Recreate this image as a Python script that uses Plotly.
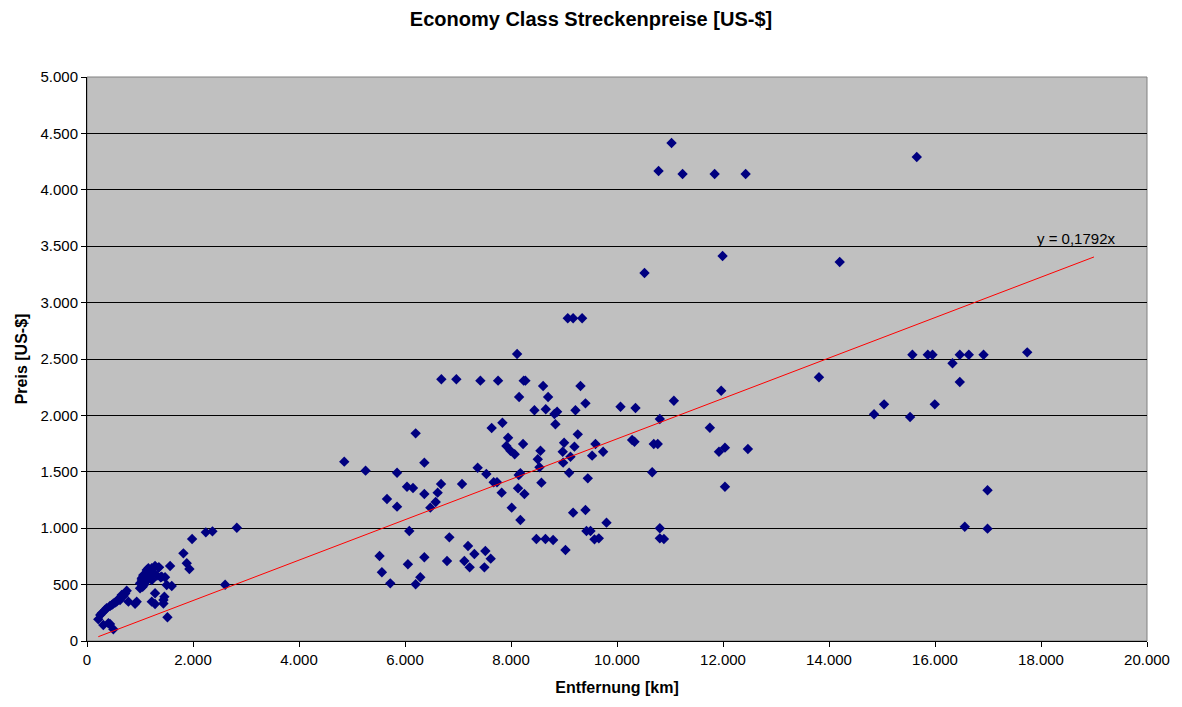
import plotly.graph_objects as go

# Distances [km] and prices [US-$]
dist_short = [213, 250, 277, 308, 340, 370, 403, 434, 434, 470, 497, 497, 530, 560, 590, 623,
              655, 690, 720, 749, 781, 907, 938, 1001, 1001, 1033, 1033, 1050, 1064, 1064, 1100,
              1127, 1150, 1158, 1222, 1222, 1222, 1284, 1284, 1284, 1348, 1360, 1390, 1410, 1442,
              1442, 1460, 1473, 1504, 1518, 1568, 1599, 1819, 1882, 1932, 1983, 2242, 2367, 2606, 2827,
              1080, 1180, 1250, 1320]
price_short = [192, 230, 245, 142, 275, 290, 157, 310, 151, 320, 333, 104, 340, 350, 370, 363,
               408, 400, 420, 446, 349, 330, 349, 467, 511, 541, 556, 480, 576, 585, 520,
               629, 600, 645, 645, 541, 349, 665, 423, 328, 653, 653, 565, 570, 363,
               333, 393, 565, 496, 210, 665, 488, 777, 689, 638, 904, 963, 972, 499, 1004,
               500, 560, 610, 580]

dist_mid = [4854, 5256, 5850, 6201, 6365, 6038, 6151, 5660, 5850, 6365, 6680, 6616, 6579, 6478,
            7076, 7371, 7535, 7673, 7736, 7824, 8013, 8177, 7635, 7838, 7945, 7913, 7989, 8070,
            8228, 8145, 8177, 8133, 8253, 8556, 8505, 8537, 8574, 6081, 6837, 5520, 5564, 5722,
            6055, 6365, 6289, 6201, 6793, 7189, 7309, 7120, 7220, 7516, 7617, 7498, 8479, 8650,
            9071, 9172, 9342, 8115, 6686, 6969, 7422, 7756, 8240, 8272, 8606, 9311, 8153, 8700,
            9405, 8442, 8656, 8870, 8820, 9216, 10066, 10349, 8838, 9260, 9002, 9197, 9594, 9738,
            9531, 8976, 9122, 8984, 10285, 10330, 10694, 10769, 10808, 10664, 9097, 9449, 9172,
            9405, 9802, 9424, 9500, 9575, 9657, 9028, 8795, 10808, 10808, 11966, 11073, 11752,
            11924, 12037, 12470, 12037, 10885]
price_mid = [1590, 1510, 1492, 1841, 1581, 1368, 1356, 1259, 1191, 1303, 1392, 1315, 1232, 1182,
             1392, 1536, 1480, 1407, 1407, 1315, 1182, 1073, 1888, 1935, 1802, 1729, 1687, 1655,
             1746, 1472, 1487, 1354, 1303, 1687, 1611, 1540, 1404, 975, 919, 754, 609, 511,
             680, 742, 565, 503, 709, 842, 771, 709, 653, 798, 730, 653, 904, 904,
             2861, 2861, 2861, 2544, 2320, 2320, 2308, 2308, 2308, 2308, 2261, 2261, 2163, 2163,
             2107, 2045, 2054, 2033, 2012, 2045, 2077, 2066, 1921, 1832, 1758, 1723, 1746, 1678,
             1643, 1678, 1634, 1581, 1782, 1767, 1746, 1746, 1968, 1496, 1492, 1442, 1138,
             1161, 1049, 975, 975, 901, 910, 807, 895, 999, 910, 2219, 2130, 1891,
             1678, 1714, 1702, 1368, 904]

dist_long = [10519, 10784, 11029, 11237, 11842, 12427, 11992, 15656, 14202, 13811, 15573, 15864,
             15953, 16468, 16638, 16916, 17740, 16330, 16468, 15039, 14850, 15996, 15530, 16991,
             16562, 16991]
price_long = [3262, 4167, 4415, 4140, 4140, 4140, 3413, 4291, 3360, 2338, 2538, 2538,
              2538, 2538, 2538, 2538, 2559, 2462, 2296, 2098, 2010, 2098, 1986, 1336,
              1013, 996]

slope = 0.1792
trend_end = 19000
x_ticks = list(range(0, 20001, 2000))
y_ticks = list(range(0, 5001, 500))

dist = dist_short + dist_mid + dist_long
price = price_short + price_mid + price_long

FONT = "Liberation Sans, Arial, sans-serif"

fig = go.Figure()
fig.add_trace(go.Scatter(
    x=dist, y=price, mode="markers",
    marker=dict(symbol="diamond", size=8, color="#000080", line=dict(width=0)),
    showlegend=False, hoverinfo="skip"))

x0 = min(dist)
fig.add_trace(go.Scatter(
    x=[x0, trend_end], y=[slope * x0, slope * trend_end], mode="lines",
    line=dict(color="#FF0000", width=1), showlegend=False, hoverinfo="skip"))

fig.add_annotation(x=trend_end, y=slope * trend_end, text="y = 0,1792x",
                   showarrow=False, xanchor="right", yanchor="bottom", xshift=23, yshift=8,
                   font=dict(family=FONT, size=15, color="black"))

fig.update_layout(
    width=1166, height=691,
    paper_bgcolor="white", plot_bgcolor="#C0C0C0",
    separators=",.",
    margin=dict(l=79, r=27, t=69, b=58, autoexpand=False),
    font=dict(family=FONT, size=15, color="black"),
    title=dict(text="<b>Economy Class Streckenpreise [US-$]</b>", x=0.5, xanchor="center",
               xref="container", yref="container", y=1 - 11 / 691, yanchor="middle",
               font=dict(size=20)),
    xaxis=dict(range=[0, 20000], tickvals=x_ticks, tickformat=",d", automargin=False,
               showgrid=False, zeroline=False, showline=True, linecolor="black", linewidth=1,
               ticks="outside", ticklen=5, tickcolor="black", mirror=False,
               title=dict(text="<b>Entfernung [km]</b>", font=dict(size=16), standoff=14)),
    yaxis=dict(range=[0, 5000], tickvals=y_ticks, tickformat=",d", automargin=False,
               showgrid=True, gridcolor="black", gridwidth=1, zeroline=False,
               showline=True, linecolor="black", linewidth=1,
               ticks="outside", ticklen=5, tickcolor="black",
               title=dict(text="<b>Preis [US-$]</b>", font=dict(size=16), standoff=8)),
)
# grey border on top / right of the plot area
fig.add_shape(type="rect", xref="paper", yref="paper", x0=0, y0=0, x1=1, y1=1,
              line=dict(color="#808080", width=1), layer="below")

fig.write_html("out.html")
